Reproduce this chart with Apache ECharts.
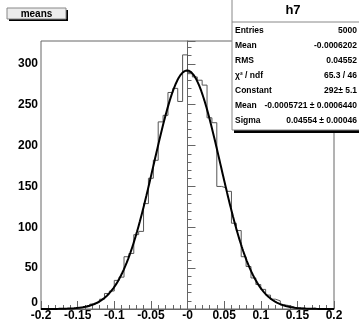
<!DOCTYPE html>
<html>
<head>
<meta charset="utf-8">
<script src="https://cdn.jsdelivr.net/npm/echarts@6/dist/echarts.min.js"></script>
<style>
  html, body { margin: 0; padding: 0; background: #fff; }
  #chart { width: 359px; height: 326px; }
</style>
</head>
<body>
<div id="chart"></div>
<script>
// Histogram h7: 60 bins between -0.2 and 0.2
const binLow = -0.2;
const binHigh = 0.2;
const binCounts = [
  0, 0, 0, 0, 0, 0, 1, 1, 2, 3,
  6, 8, 12, 19, 22, 35, 39, 64, 68, 91,
  95, 129, 160, 182, 229, 237, 265, 270, 254, 311,
  288, 284, 280, 274, 234, 228, 150, 148, 144, 105,
  96, 64, 52, 38, 30, 24, 17, 12, 10, 5,
  4, 2, 1, 1, 0, 1, 0, 0, 0, 0
];

// Gaussian fit parameters shown in the stats box
const fitConstant = 292;
const fitMean = -0.0005721;
const fitSigma = 0.04554;

// Axis tick labels
const xTickValues = [-0.2, -0.15, -0.1, -0.05, 0, 0.05, 0.1, 0.15, 0.2];
const xTickLabels = ['-0.2', '-0.15', '-0.1', '-0.05', '-0', '0.05', '0.1', '0.15', '0.2'];
const yTickValues = [0, 50, 100, 150, 200, 250, 300];
const yTickLabels = ['0', '50', '100', '150', '200', '250', '300'];

// Stats box
const statTitle = 'h7';
const statNames = ['Entries', 'Mean', 'RMS', 'χ² / ndf', 'Constant', 'Mean', 'Sigma'];
const statValues = ['5000', '-0.0006202', '0.04552', '65.3 / 46', '292± 5.1', '-0.0005721 ± 0.0006440', '0.04554 ± 0.00046'];

const chart = echarts.init(document.getElementById('chart'));

// step outline of the histogram: one point per left bin edge, plus closing edge
const binWidth = (binHigh - binLow) / binCounts.length;
const histData = binCounts.map((c, i) => [binLow + i * binWidth, c]);
histData.push([binHigh, binCounts[binCounts.length - 1]]);

// fit function drawn from its parameters
const fitData = [];
for (let i = 0; i <= 400; i++) {
  const x = binLow + (binHigh - binLow) * i / 400;
  const z = (x - fitMean) / fitSigma;
  fitData.push([x, fitConstant * Math.exp(-0.5 * z * z)]);
}

function labelFor(values, labels) {
  return (v) => {
    const i = values.findIndex(t => Math.abs(t - v) < 1e-9);
    return i >= 0 ? labels[i] : '';
  };
}

const labelFont = {
  fontFamily: 'Liberation Sans',
  fontWeight: 'bold',
  fontSize: 12,
  color: '#000',
};

const graphics = [
  // title box
  { type: 'rect', shape: { x: 9, y: 10, width: 59, height: 11 }, style: { fill: '#000' }, z: 100 },
  { type: 'rect', shape: { x: 7, y: 8, width: 59, height: 11 }, style: { fill: '#ececec', stroke: '#888', lineWidth: 1 }, z: 101 },
  { type: 'text', x: 36.5, y: 14, style: { text: 'means', fontFamily: 'Liberation Sans', fontWeight: 'bold', fontSize: 10, fill: '#000', align: 'center', verticalAlign: 'middle' }, z: 102 },
  // stats box
  { type: 'rect', shape: { x: 234, y: 3, width: 130, height: 130 }, style: { fill: '#000' }, z: 100 },
  { type: 'rect', shape: { x: 232, y: -2, width: 130, height: 132 }, style: { fill: '#fff', stroke: '#888', lineWidth: 1 }, z: 101 },
  { type: 'line', shape: { x1: 232, y1: 22, x2: 362, y2: 22 }, style: { stroke: '#888', lineWidth: 1 }, z: 102 },
  { type: 'text', x: 293, y: 10, style: { text: statTitle, fontFamily: 'Liberation Sans', fontWeight: 'bold', fontSize: 13, fill: '#000', align: 'center', verticalAlign: 'middle' }, z: 102 },
];
statNames.forEach((name, i) => {
  const y = 30.5 + i * 15;
  graphics.push({ type: 'text', x: 235, y: y, style: { text: name, fontFamily: 'Liberation Sans', fontWeight: 'bold', fontSize: 8.5, fill: '#000', align: 'left', verticalAlign: 'middle' }, z: 102 });
  graphics.push({ type: 'text', x: 357, y: y, style: { text: statValues[i], fontFamily: 'Liberation Sans', fontWeight: 'bold', fontSize: 8.5, fill: '#000', align: 'right', verticalAlign: 'middle' }, z: 102 });
});

const option = {
  animation: false,
  backgroundColor: '#fff',
  grid: {
    left: 41,
    top: 41,
    width: 293,
    height: 268,
    show: true,
    borderColor: '#666',
    borderWidth: 1,
  },
  xAxis: {
    type: 'value',
    min: binLow,
    max: binHigh,
    interval: 0.05,
    splitLine: { show: false },
    axisLine: { lineStyle: { color: '#666', width: 1 } },
    axisTick: { inside: true, length: 8, lineStyle: { color: '#666' } },
    minorTick: { show: true, splitNumber: 5, length: 4, lineStyle: { color: '#666' } },
    axisLabel: Object.assign({ margin: 1, formatter: labelFor(xTickValues, xTickLabels) }, labelFont),
  },
  yAxis: {
    type: 'value',
    min: 0,
    max: 328,
    interval: 50,
    splitLine: { show: false },
    axisLine: { show: true, lineStyle: { color: '#666', width: 1 } },
    axisTick: { inside: true, length: 8, lineStyle: { color: '#666' } },
    minorTick: { show: true, splitNumber: 5, length: 4, lineStyle: { color: '#666' } },
    axisLabel: Object.assign({ margin: 3, formatter: labelFor(yTickValues, yTickLabels), verticalAlignMinLabel: 'bottom' }, labelFont),
  },
  series: [
    {
      name: 'h7',
      type: 'line',
      step: 'end',
      data: histData,
      showSymbol: false,
      lineStyle: { color: '#555', width: 1 },
      z: 2,
    },
    {
      name: 'fit',
      type: 'line',
      data: fitData,
      showSymbol: false,
      smooth: false,
      lineStyle: { color: '#000', width: 2 },
      z: 3,
    },
  ],
  graphic: graphics,
};

chart.setOption(option);
</script>
</body>
</html>
